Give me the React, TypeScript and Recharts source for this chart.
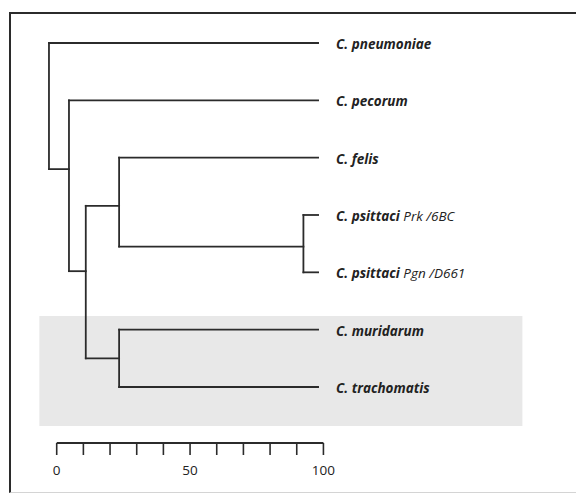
import { LineChart, Line, XAxis, YAxis, ReferenceArea, LabelList } from 'recharts';

// leaves, top to bottom
const leafIds = ['pneumoniae', 'pecorum', 'felis', 'prk', 'pgn', 'muridarum', 'trachomatis'];
const species = ['C. pneumoniae', 'C. pecorum', 'C. felis', 'C. psittaci', 'C. psittaci', 'C. muridarum', 'C. trachomatis'];
const strains = ['', '', '', 'Prk /6BC', 'Pgn /D661', '', ''];
const leafDistance = 98;

// internal nodes of the tree
const nodeIds = ['psittaci', 'felisPsittaci', 'muridarumTrachomatis', 'core', 'pecorumCore', 'root'];
const nodeChildren = [
  ['prk', 'pgn'],
  ['felis', 'psittaci'],
  ['muridarum', 'trachomatis'],
  ['felisPsittaci', 'muridarumTrachomatis'],
  ['pecorum', 'core'],
  ['pneumoniae', 'pecorumCore'],
];
const nodeDistance = [92.5, 23.4, 23.4, 10.9, 4.6, -2.9];
const nodeRow = [3.55, 2.84, 5.5, 3.98, 2.2, 1.1];

// scale bar
const scaleTicks = [0, 10, 20, 30, 40, 50, 60, 70, 80, 90, 100];
const scaleLabels = [0, 50, 100];

const W = 576;
const H = 497;
const X_DOMAIN: [number, number] = [-21.26, 194.7];
const Y_DOMAIN: [number, number] = [-0.75, 6.977];
const INK = '#2b2b2b';

type Pt = { x: number; y: number; leaf?: number };

const rowOf = (id: string) => {
  const i = leafIds.indexOf(id);
  return i >= 0 ? i : nodeRow[nodeIds.indexOf(id)];
};
const parentDistance = (id: string) =>
  nodeDistance[nodeChildren.findIndex((c) => c.includes(id))];

const segments: { key: string; pts: Pt[] }[] = [];
leafIds.forEach((id, i) => {
  segments.push({
    key: 'leaf-' + id,
    pts: [
      { x: parentDistance(id), y: i },
      { x: leafDistance, y: i, leaf: i },
    ],
  });
});
nodeIds.forEach((id, i) => {
  const [a, b] = nodeChildren[i];
  segments.push({
    key: 'v-' + id,
    pts: [
      { x: nodeDistance[i], y: rowOf(a) },
      { x: nodeDistance[i], y: rowOf(b) },
    ],
  });
  if (id !== 'root') {
    segments.push({
      key: 'h-' + id,
      pts: [
        { x: parentDistance(id), y: nodeRow[i] },
        { x: nodeDistance[i], y: nodeRow[i] },
      ],
    });
  }
});

const scaleBar: Pt[] = [
  { x: scaleTicks[0], y: Y_DOMAIN[1] },
  { x: scaleTicks[scaleTicks.length - 1], y: Y_DOMAIN[1] },
];

const LeafLabel = (p: any) => {
  const { x, y, value } = p;
  if (value === undefined || value === null) return null;
  const i = Number(value);
  return (
    <text
      x={x + 18}
      y={y + 1}
      dominantBaseline="central"
      fontFamily="'Open Sans', sans-serif"
      fontSize={13.5}
      fontStyle="italic"
      fill="#222"
    >
      <tspan fontWeight={700}>{species[i]}</tspan>
      {strains[i] ? <tspan fontWeight={400}>{' ' + strains[i]}</tspan> : null}
    </text>
  );
};

export default function App() {
  return (
    <div style={{ position: 'absolute', left: 0, top: 0, width: W, height: H, background: '#fff' }}>
      <div
        style={{
          position: 'absolute',
          left: 9,
          top: 12,
          width: W - 9,
          height: 481,
          borderLeft: `2px solid ${INK}`,
          borderTop: `2px solid ${INK}`,
          borderBottom: '1px solid #d4d4d4',
          boxSizing: 'border-box',
        }}
      />
      <div style={{ position: 'absolute', left: 0, top: 0 }}>
        <LineChart width={W} height={H} margin={{ top: 0, right: 0, bottom: 0, left: 0 }}>
          <XAxis
            dataKey="x"
            type="number"
            domain={X_DOMAIN}
            ticks={scaleTicks}
            interval={0}
            height={54}
            axisLine={false}
            tickSize={12}
            tickMargin={10}
            tickLine={{ stroke: INK, strokeWidth: 1.6 }}
            tick={{ fill: '#222', fontSize: 13.5, fontFamily: "'Open Sans', sans-serif" }}
            tickFormatter={(v: number) => (scaleLabels.includes(v) ? String(v) : '')}
          />
          <YAxis type="number" dataKey="y" domain={Y_DOMAIN} reversed hide />
          <ReferenceArea
            x1={-6.5}
            x2={174.6}
            y1={4.76}
            y2={6.68}
            fill="#e8e8e8"
            fillOpacity={1}
            stroke="none"
          />
          {segments.map((s) => (
            <Line
              key={s.key}
              data={s.pts}
              dataKey="y"
              type="linear"
              stroke={INK}
              strokeWidth={1.8}
              strokeLinecap="square"
              dot={false}
              activeDot={false}
              isAnimationActive={false}
            >
              {s.key.startsWith('leaf-') ? <LabelList dataKey="leaf" content={LeafLabel} /> : null}
            </Line>
          ))}
          <Line
            data={scaleBar}
            dataKey="y"
            type="linear"
            stroke={INK}
            strokeWidth={1.8}
            dot={false}
            activeDot={false}
            isAnimationActive={false}
          />
        </LineChart>
      </div>
    </div>
  );
}
